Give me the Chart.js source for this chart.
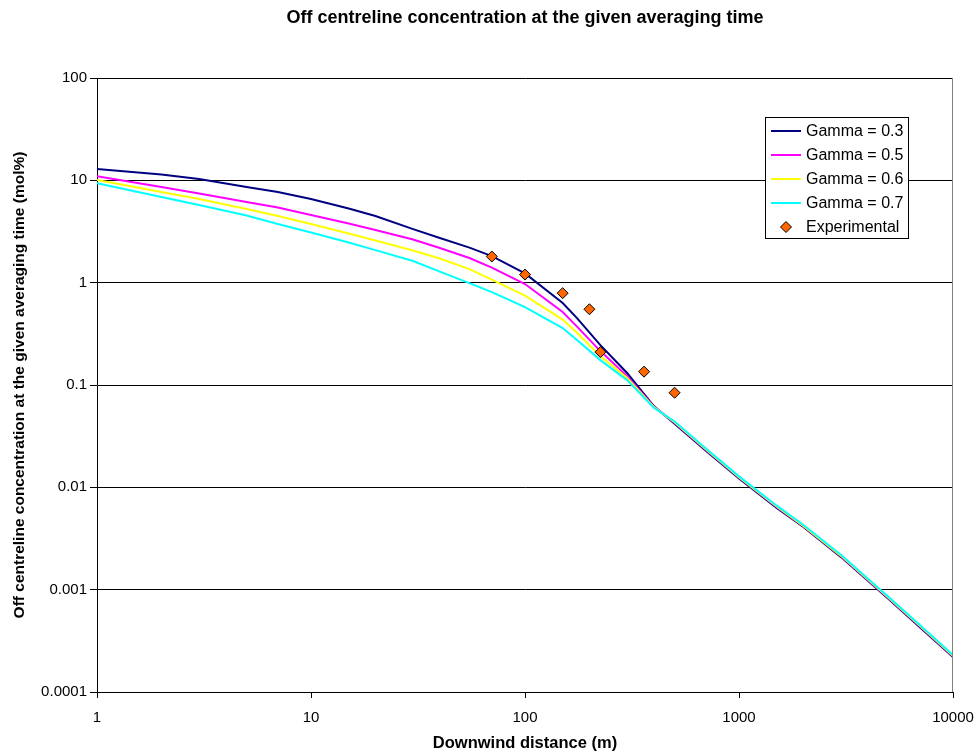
<!DOCTYPE html>
<html>
<head>
<meta charset="utf-8">
<title>Off centreline concentration</title>
<script src="https://cdn.jsdelivr.net/npm/chart.js@4.4.1/dist/chart.umd.min.js"></script>
<style>
  html, body { margin: 0; padding: 0; background: #fff; }
  #wrap { width: 976px; height: 755px; }
</style>
</head>
<body>
<div id="wrap"><canvas id="concChart" width="976" height="755"></canvas></div>
<script>
// downwind distances (m) where the model curves are evaluated
const distance = [1, 2, 3, 5, 7, 10, 15, 20, 30, 40, 55, 70, 100, 150, 175, 225, 300, 400, 500, 700, 1000, 1500, 2000, 3000, 5000, 7000, 10000];

// off centreline concentration (mol%) for each gamma
const gamma03 = [12.9, 11.39, 10.29, 8.60, 7.69, 6.56, 5.30, 4.48, 3.34, 2.73, 2.20, 1.82, 1.23, 0.632, 0.451, 0.245, 0.131, 0.0622, 0.0419, 0.0228, 0.0122, 0.0063, 0.0041, 0.00208, 0.00081, 0.00043, 0.00022];
const gamma05 = [10.94, 8.60, 7.43, 6.14, 5.42, 4.58, 3.78, 3.27, 2.64, 2.18, 1.74, 1.405, 0.969, 0.516, 0.372, 0.2145, 0.1222, 0.0615, 0.0427, 0.0233, 0.01245, 0.00643, 0.00416, 0.00212, 0.000825, 0.000439, 0.000224];
const gamma06 = [10.07, 7.69, 6.56, 5.24, 4.48, 3.74, 3.02, 2.58, 2.06, 1.72, 1.358, 1.072, 0.748, 0.436, 0.324, 0.1916, 0.1168, 0.0608, 0.0432, 0.0235, 0.01257, 0.00649, 0.0042, 0.00214, 0.000834, 0.000443, 0.000226];
const gamma07 = [9.35, 6.87, 5.74, 4.53, 3.74, 3.09, 2.47, 2.08, 1.626, 1.284, 0.991, 0.809, 0.577, 0.36, 0.2748, 0.1751, 0.1116, 0.0601, 0.044, 0.024, 0.0128, 0.00662, 0.00428, 0.00218, 0.00085, 0.000452, 0.00023];

// measured points
const expDistance = [70, 100, 150, 200, 225, 360, 500];
const expConc = [1.8, 1.2, 0.79, 0.55, 0.21, 0.135, 0.084];

const xTicks = [1, 10, 100, 1000, 10000];
const yTicks = [0.0001, 0.001, 0.01, 0.1, 1, 10, 100];

const FONT = "Arial, 'Liberation Sans', sans-serif";
Chart.defaults.font.family = FONT;
Chart.defaults.color = '#000';

function pts(xs, ys) {
  return xs.map((x, i) => ({ x: x, y: ys[i] }));
}

function curve(label, ys, color, order) {
  return {
    label: label,
    data: pts(distance, ys),
    showLine: true,
    borderColor: color,
    backgroundColor: color,
    borderWidth: 2,
    pointRadius: 0,
    tension: 0,
    fill: false,
    order: order
  };
}

// title, legend box and right-hand frame line
const framePlugin = {
  id: 'frame',
  afterDraw(chart) {
    const ctx = chart.ctx;
    const area = chart.chartArea;
    ctx.save();

    ctx.strokeStyle = '#808080';
    ctx.lineWidth = 1;
    ctx.beginPath();
    ctx.moveTo(Math.round(area.right) - 0.5, area.top);
    ctx.lineTo(Math.round(area.right) - 0.5, area.bottom);
    ctx.stroke();

    ctx.fillStyle = '#000';
    ctx.font = 'bold 18px ' + FONT;
    ctx.textAlign = 'center';
    ctx.textBaseline = 'middle';
    ctx.fillText('Off centreline concentration at the given averaging time', (area.left + area.right) / 2, 18);

    const bx = area.right - 188, by = area.top + 39, bw = 143, bh = 121;
    ctx.fillStyle = '#fff';
    ctx.fillRect(bx, by, bw, bh);
    ctx.strokeStyle = '#000';
    ctx.strokeRect(bx + 0.5, by + 0.5, bw, bh);

    ctx.font = '16px ' + FONT;
    ctx.textAlign = 'left';
    chart.data.datasets.forEach((ds, i) => {
      const y = by + 14 + i * 24;
      if (ds.showLine) {
        ctx.strokeStyle = ds.borderColor;
        ctx.lineWidth = 2;
        ctx.beginPath();
        ctx.moveTo(bx + 6, y);
        ctx.lineTo(bx + 36, y);
        ctx.stroke();
      } else {
        const cx = bx + 21, r = ds.pointRadius;
        ctx.fillStyle = ds.pointBackgroundColor;
        ctx.strokeStyle = ds.pointBorderColor;
        ctx.lineWidth = 1;
        ctx.beginPath();
        ctx.moveTo(cx, y - r);
        ctx.lineTo(cx + r, y);
        ctx.lineTo(cx, y + r);
        ctx.lineTo(cx - r, y);
        ctx.closePath();
        ctx.fill();
        ctx.stroke();
      }
      ctx.fillStyle = '#000';
      ctx.fillText(ds.label, bx + 41, y + 1);
    });
    ctx.restore();
  }
};

new Chart(document.getElementById('concChart'), {
  type: 'scatter',
  data: {
    datasets: [
      curve('Gamma = 0.3', gamma03, '#000080', 4),
      curve('Gamma = 0.5', gamma05, '#FF00FF', 3),
      curve('Gamma = 0.6', gamma06, '#FFFF00', 2),
      curve('Gamma = 0.7', gamma07, '#00FFFF', 1),
      {
        label: 'Experimental',
        data: pts(expDistance, expConc),
        showLine: false,
        pointStyle: 'rectRot',
        pointRadius: 5.5,
        pointBackgroundColor: '#FF6600',
        pointBorderColor: '#000',
        pointBorderWidth: 1,
        order: 0
      }
    ]
  },
  options: {
    responsive: false,
    animation: false,
    layout: { padding: { top: 78, right: 23, left: 0, bottom: 0 } },
    plugins: {
      legend: { display: false },
      tooltip: { enabled: false }
    },
    scales: {
      x: {
        type: 'logarithmic',
        min: 1,
        max: 10000,
        afterBuildTicks: s => { s.ticks = xTicks.map(v => ({ value: v })); },
        afterFit: s => {
          s.height = 63;
          s.paddingLeft = 0;
          s.paddingRight = 0;
        },
        ticks: {
          autoSkip: false,
          maxRotation: 0,
          padding: 11,
          font: { size: 15 },
          callback: v => String(v)
        },
        grid: { drawOnChartArea: false, drawTicks: true, tickLength: 6, color: '#000' },
        border: { color: '#000', width: 1 },
        title: {
          display: true,
          text: 'Downwind distance (m)',
          font: { size: 16.5, weight: 'bold' },
          padding: { top: 0, bottom: 2 }
        }
      },
      y: {
        type: 'logarithmic',
        min: 0.0001,
        max: 100,
        afterBuildTicks: s => { s.ticks = yTicks.map(v => ({ value: v })); },
        afterFit: s => { s.width = 97; },
        ticks: {
          autoSkip: false,
          padding: 3,
          font: { size: 15 },
          callback: v => String(v)
        },
        grid: { color: '#000', tickColor: '#000', tickLength: 7, lineWidth: 1 },
        border: { color: '#000', width: 1 },
        title: {
          display: true,
          text: 'Off centreline concentration at the given averaging time (mol%)',
          font: { size: 15.5, weight: 'bold' },
          padding: { top: 10, bottom: 0 }
        }
      }
    }
  },
  plugins: [framePlugin]
});
</script>
</body>
</html>
